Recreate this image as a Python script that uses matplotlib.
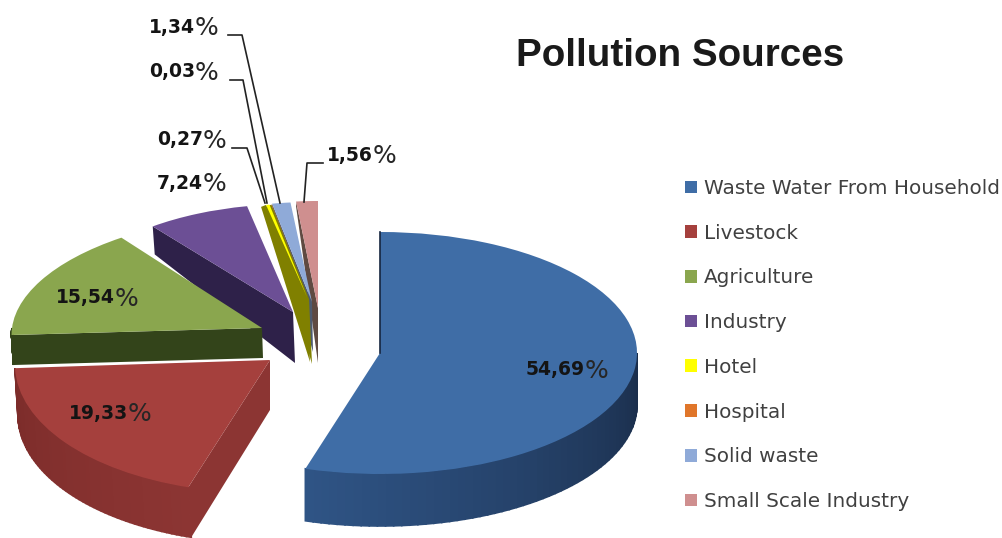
#!/usr/bin/env python

import numpy as np
import matplotlib
matplotlib.use("Agg")
import matplotlib.pyplot as plt
from matplotlib.colors import to_rgb
from matplotlib.patches import Polygon
from matplotlib.transforms import Affine2D

# data
names = ["Waste Water From Household", "Livestock", "Agriculture", "Industry",
         "Hotel", "Hospital", "Solid waste", "Small Scale Industry"]
shares = [54.69, 19.33, 15.54, 7.24, 0.27, 0.03, 1.34, 1.56]
share_text = ["54,69", "19,33", "15,54", "7,24", "0,27", "0,03", "1,34", "1,56"]
top_colors = ["#3f6da6", "#a5403d", "#8aa64e", "#6c4f95",
              "#ffff00", "#e0762a", "#8faad8", "#cf8f8f"]
side_colors = [("#1a2d4a", "#2f5485"), ("#8c3533", "#7c2c2a"), ("#33441a", "#33441a"),
               ("#2e2149", "#2e2149"), ("#808000", "#808000"), ("#808000", "#808000"),
               ("#4d5a70", "#4d5a70"), ("#5f4a42", "#5f4a42")]

# layout of the exploded slices, in pixels: centre x, centre y, radius x, radius y, shear
slice_geom = [(380, 353, 257, 121, 0), (270, 360, 255, 133, 8), (262, 328, 250, 114, 15),
              (293, 312, 230, 108, 0), (307, 297, 205, 94, 0), (309, 299, 205, 96, 0),
              (312, 302, 220, 100, 0), (318, 308, 224, 107, 0)]
apex_drop = [(0, 52), (0, 50), (1, 30), (2, 51), (3, 65), (3, 65), (1, 50), (0, 55)]
rim_drop = [(0, 52), (3, 50), (2, 30), (2, 28), (-5, 2), (-5, 2), (0, 3), (0, 5)]
draw_order = [7, 6, 5, 4, 3, 2, 1, 0]

label_pos = [(585, 370), (128, 413), (115, 298), (203, 183),
             (203, 140), (195, 72), (195, 27), (373, 155)]
leaders = {4: [(232, 148), (247, 148), (265, 203)],
           5: [(230, 80), (243, 80), (267, 203)],
           6: [(228, 35), (242, 35), (280, 203)],
           7: [(323, 163), (307, 163), (304, 202)]}


def rim(geom, theta):
    cx, cy, rx, ry, s = geom
    return cx + rx*np.sin(theta) + s*np.cos(theta), cy - ry*np.cos(theta)


def mix(c0, c1, t):
    a, b = np.array(to_rgb(c0)), np.array(to_rgb(c1))
    return tuple(a + (b - a)*t)


def main():
    fig = plt.figure(figsize=(10.02, 5.38), dpi=100)
    ax = fig.add_axes([0, 0, 1, 1])
    wedges, _ = ax.pie(shares, colors=top_colors, startangle=90, counterclock=False)
    ax.set_aspect("auto")
    ax.set_xlim(0, 1002)
    ax.set_ylim(538, 0)
    ax.axis("off")

    edges = np.radians(np.concatenate([[0], np.cumsum(shares)])*360/sum(shares))
    z = 2
    for i in draw_order:
        g = slice_geom[i]
        t0, t1 = edges[i], edges[i+1]
        # face along the first straight edge
        if np.sin(t0) < -0.01:
            x, y = rim(g, t0)
            pts = [(g[0], g[1]), (x, y), (x + rim_drop[i][0], y + rim_drop[i][1]),
                   (g[0] + apex_drop[i][0], g[1] + apex_drop[i][1])]
            ax.add_patch(Polygon(pts, closed=True, fc=side_colors[i][0], ec="none", zorder=z))
        # outer wall, only on the part that faces the viewer
        a, b = max(t0, np.pi/2), min(t1, 3*np.pi/2)
        if b > a:
            th = np.linspace(a, b, 60)
            for k in range(len(th) - 1):
                x0, y0 = rim(g, th[k])
                x1, y1 = rim(g, th[k+1])
                dx, dy = rim_drop[i]
                c = mix(side_colors[i][0], side_colors[i][1], k/(len(th) - 2))
                ax.add_patch(Polygon([(x0, y0), (x1, y1), (x1 + dx, y1 + dy), (x0 + dx, y0 + dy)],
                                     closed=True, fc=c, ec=c, lw=1.2, zorder=z))
        # the pie wedge is a unit circle, put it where the slice sits
        wedges[i].set_transform(Affine2D.from_values(g[2], 0, g[4], -g[3], g[0], g[1]) + ax.transData)
        wedges[i].set_zorder(z + 0.5)
        z += 1

    # dark sliver beside the big slice
    x, y = rim(slice_geom[0], edges[0])
    ax.plot([x, slice_geom[0][0]], [y, slice_geom[0][1]], color="#16263f", lw=1.2, zorder=z)

    for i, (x, y) in enumerate(label_pos):
        ax.text(x, y, share_text[i], ha="right", va="center", fontsize=13.5,
                fontweight="bold", color="#141414", zorder=20)
        ax.text(x, y + 1, "%", ha="left", va="center", fontsize=18, color="#262626", zorder=20)
    for i, pts in leaders.items():
        ax.plot([p[0] for p in pts], [p[1] for p in pts], color="#222222", lw=1.2, zorder=19)

    ax.text(516, 56, "Pollution Sources", fontsize=27.8, fontweight="bold",
            family="Liberation Sans", color="#1a1a1a", va="center", ha="left")

    ax.legend(wedges, names, loc="upper left", bbox_to_anchor=(685/1002, 1 - 179/538),
              frameon=False, fontsize=14.4, labelspacing=1.286, handlelength=0.6, handleheight=0.6,
              handletextpad=0.35, labelcolor="#404040", borderpad=0, borderaxespad=0)

    fig.savefig("out.png", dpi=100)
    plt.close()


if __name__ == "__main__":
    main()
